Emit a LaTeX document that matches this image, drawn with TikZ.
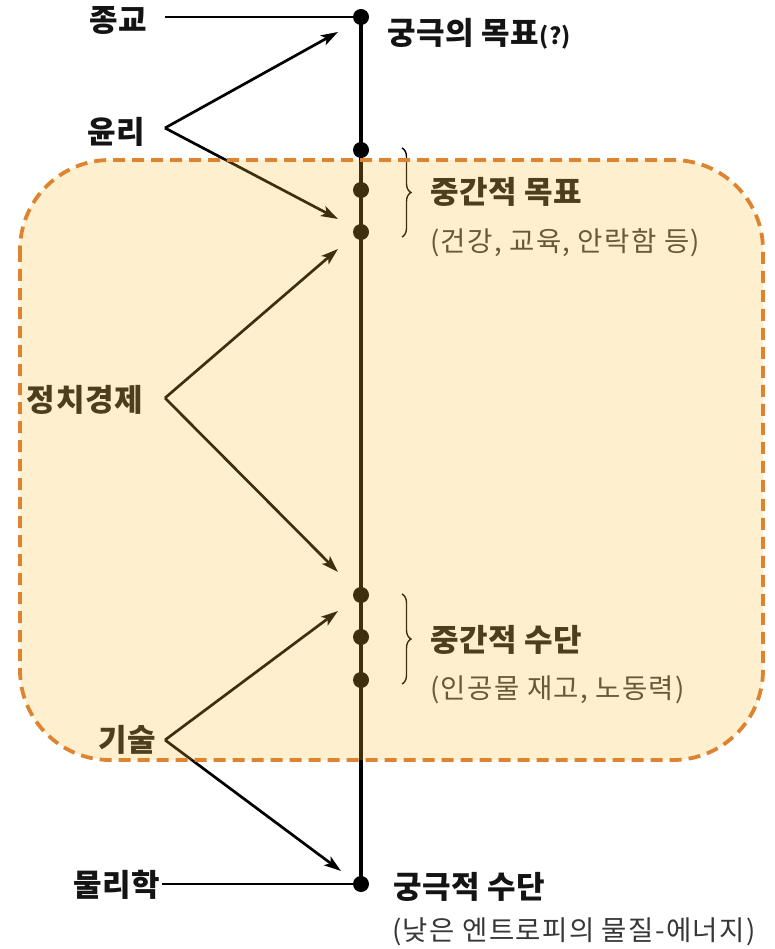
\documentclass[tikz,border=0pt]{standalone}
\usepackage{fontspec}
\setmainfont{Noto Sans CJK KR}
\usetikzlibrary{arrows.meta,decorations.pathreplacing}
\definecolor{boxfill}{RGB}{250,195,60}
\definecolor{boxline}{RGB}{222,132,48}
\definecolor{subtxt}{RGB}{55,55,55}
\begin{document}
\begin{tikzpicture}[x=1pt,y=-1pt,
  dot/.style={circle,fill=black,inner sep=0pt,minimum size=16pt},
  lbl/.style={font=\bfseries\fontsize{31}{34}\selectfont\addfontfeature{LetterSpace=2},inner sep=0pt,text=black!92},
  sub/.style={font=\fontsize{27.5}{30}\selectfont\addfontfeature{LetterSpace=5},inner sep=0pt,text=subtxt},
  arr/.style={line width=2.7pt,-{Stealth[length=17pt,width=11pt,inset=4pt]}},
  hline/.style={line width=2.7pt},
  brc/.style={decorate,decoration={brace,amplitude=9pt},line width=1.4pt},
  ]
\useasboundingbox (0,0) rectangle (775,949);
% spine dots
\node[dot] (d0) at (361,17) {};
\node[dot] (d1) at (361,150) {};
\node[dot] (d2) at (361,190) {};
\node[dot] (d3) at (361,232) {};
\node[dot] (d4) at (361,595) {};
\node[dot] (d5) at (361,637) {};
\node[dot] (d6) at (361,680) {};
\node[dot] (d7) at (361,884) {};
\draw[line width=4.5pt] (d0.center) -- (d7.center);

% left labels
\node[lbl,anchor=east] (jonggyo) at (147,20) {종교};
\node[lbl,anchor=east] (yunri) at (145,132) {윤리};
\node[lbl,anchor=east] (jeongchi) at (143,400) {정치경제};
\node[lbl,anchor=east] (gisul) at (156,740) {기술};
\node[lbl,anchor=east] (mulli) at (160,885) {물리학};

\coordinate (jgs) at (165,17);
\draw[hline] (jgs) -- (d0.center);
\coordinate (mls) at (162,884);
\draw[hline] (mls) -- (d7.center);

\coordinate (ya) at (165,128);
\coordinate (ye1) at (338,32);
\coordinate (ye2) at (338,219);
\draw[arr] (ya) -- (ye1);
\draw[arr] (ya) -- (ye2);

\coordinate (ja) at (165,398);
\coordinate (je1) at (338,249);
\coordinate (je2) at (338,572);
\draw[arr] (ja) -- (je1);
\draw[arr] (ja) -- (je2);

\coordinate (ga) at (165,740);
\coordinate (ge1) at (338,611);
\coordinate (ge2) at (341,871);
\draw[arr] (ga) -- (ge1);
\draw[arr] (ga) -- (ge2);

% right labels
\node[lbl,anchor=west] (ugoal) at (387,34) {궁극의 목표{\fontsize{23}{26}\selectfont(?)}};
\node[lbl,anchor=west] (igoal) at (430,192) {중간적 목표};
\node[sub,anchor=west] (igoalsub) at (430,243) {(건강, 교육, 안락함 등)};
\node[lbl,anchor=west] (imeans) at (430,640) {중간적 수단};
\node[sub,anchor=west] (imeanssub) at (430,690) {(인공물 재고, 노동력)};
\node[lbl,anchor=west] (umeans) at (393,887) {궁극적 수단};
\node[sub,anchor=west] (umeanssub) at (392,932) {(낮은 엔트로피의 물질-에너지)};

% braces
\coordinate (b1t) at (402,148);
\coordinate (b1b) at (402,237);
\draw[brc] (b1t) -- (b1b);
\coordinate (b2t) at (402,594);
\coordinate (b2b) at (402,684);
\draw[brc] (b2t) -- (b2b);

% translucent box
\draw[boxline,line width=3.8pt,dash pattern=on 12pt off 7pt,fill=boxfill,fill opacity=0.25,rounded corners=90pt]
  (20,160) rectangle (763,760);
\end{tikzpicture}
\end{document}
